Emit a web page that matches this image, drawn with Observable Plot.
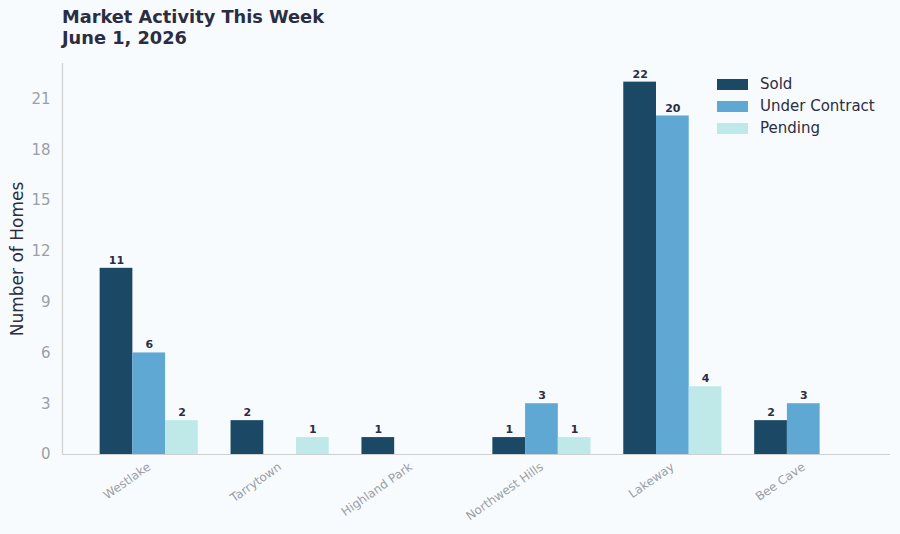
<!DOCTYPE html>
<html>
<head>
<meta charset="utf-8">
<script src="https://cdn.jsdelivr.net/npm/d3@7"></script>
<script src="https://cdn.jsdelivr.net/npm/@observablehq/plot@0.6"></script>
<style>
  html, body { margin: 0; padding: 0; background: #f8fbfd; }
  body { width: 900px; height: 534px; position: relative; overflow: hidden; font-family: "DejaVu Sans", sans-serif; }
  #title { position: absolute; left: 62px; top: 6px; font-weight: bold; font-size: 17.8px; line-height: 21px; color: #2b2d42; }
  #chart { position: absolute; left: 0; top: 55px; }
  #legend { position: absolute; left: 717px; top: 73px; font-size: 15px; color: #2b2d42; }
  #legend .row { display: flex; align-items: center; height: 22px; }
  #legend .sw { width: 31px; height: 11px; margin-right: 12px; }
</style>
</head>
<body>
<div id="title">Market Activity This Week<br>June 1, 2026</div>
<div id="chart"></div>
<div id="legend"></div>
<script>
const neighborhoods = ["Westlake", "Tarrytown", "Highland Park", "Northwest Hills", "Lakeway", "Bee Cave"];
const seriesNames = ["Sold", "Under Contract", "Pending"];
const sold = [11, 2, 1, 1, 22, 2];
const underContract = [6, 0, 0, 3, 20, 3];
const pending = [2, 1, 0, 1, 4, 0];
const colors = ["#1b4965", "#5fa8d3", "#bee9e8"];
const yTicks = [0, 3, 6, 9, 12, 15, 18, 21];

const seriesValues = [sold, underContract, pending];
const data = [];
neighborhoods.forEach((n, gi) => {
  seriesValues.forEach((vals, si) => {
    data.push({ gi, si, neighborhood: n, series: seriesNames[si], value: vals[gi] });
  });
});
const barW = 0.25;
const bars = data.filter(d => d.value > 0);

const chart = Plot.plot({
  width: 900,
  height: 479,
  marginLeft: 62,
  marginRight: 10,
  marginTop: 8,
  marginBottom: 80,
  style: { background: "transparent", fontFamily: "DejaVu Sans, sans-serif" },
  x: { domain: [-0.6625, 5.6625], label: null },
  y: { domain: [0, 23.1], label: "Number of Homes" },
  color: { domain: seriesNames, range: colors },
  marks: [
    Plot.rectY(bars, {
      x1: d => d.gi + (d.si - 1) * barW - barW / 2,
      x2: d => d.gi + (d.si - 1) * barW + barW / 2,
      y1: 0, y2: "value", fill: "series"
    }),
    Plot.text(bars, {
      x: d => d.gi + (d.si - 1) * barW,
      y: "value", text: d => String(d.value), dy: -8,
      fontWeight: "bold", fontSize: 11, fill: "#2b2d42"
    }),
    Plot.axisY({ ticks: yTicks, tickSize: 0, tickPadding: 12, fontSize: 15, color: "#9aa0a6",
      label: "Number of Homes", labelAnchor: "center", labelArrow: "none", labelOffset: 52 }),
    Plot.axisX({ ticks: d3.range(neighborhoods.length), tickFormat: i => neighborhoods[i], tickRotate: -35, tickSize: 0, tickPadding: 11, fontSize: 12, color: "#9aa0a6", label: null }),
    Plot.ruleX([-0.6625], { stroke: "#d0d0d0", strokeWidth: 1.2 }),
    Plot.ruleY([0], { stroke: "#d0d0d0", strokeWidth: 1.2 })
  ]
});
chart.querySelectorAll("g[aria-label='y-axis label'] text, g[aria-label='y-axis label']").forEach(el => {
  el.setAttribute("fill", "#2b2d42");
  el.setAttribute("font-size", "17");
});
document.getElementById("chart").appendChild(chart);

const legend = document.getElementById("legend");
seriesNames.forEach((s, i) => {
  const row = document.createElement("div");
  row.className = "row";
  const sw = document.createElement("div");
  sw.className = "sw";
  sw.style.background = colors[i];
  const label = document.createElement("span");
  label.textContent = s;
  row.appendChild(sw);
  row.appendChild(label);
  legend.appendChild(row);
});
</script>
</body>
</html>
